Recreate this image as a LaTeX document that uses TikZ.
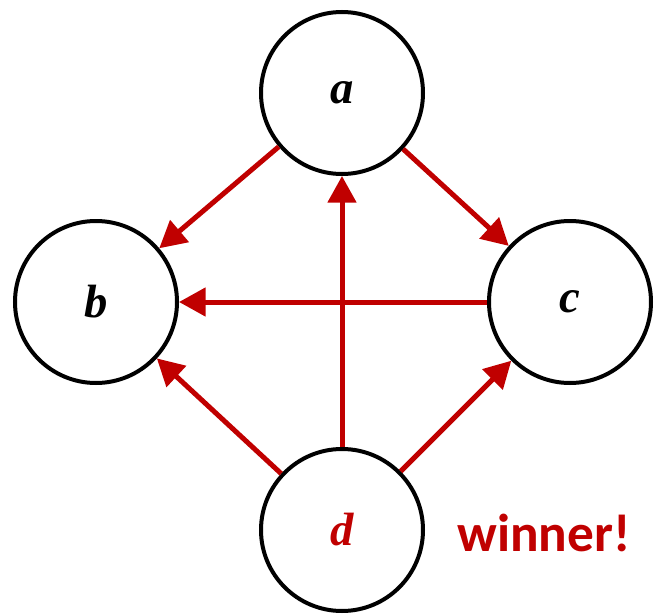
\documentclass[tikz,border=0pt]{standalone}
\usepackage{fontspec}
\newfontfamily\labelfont{Carlito}
\newfontfamily\vtxfont{Liberation Serif}
\usetikzlibrary{arrows.meta}
\definecolor{winred}{HTML}{C00000}

\begin{document}
\begin{tikzpicture}[x=0.75pt,y=-0.75pt, vtx/.style={draw=black,circle,line width=3pt,minimum size=121.5pt,inner sep=0pt,font=\vtxfont\fontsize{35}{40}\selectfont\bfseries\itshape}, arr/.style={-{Triangle[length=20pt,width=21pt]},line width=3.75pt,draw=winred}]
\useasboundingbox (0,0) rectangle (654,614);
\node[vtx] (a) at (342,93) {a};
\node[vtx] (b) at (96,302) {b};
\node[vtx] (c) at (570,302) {c};
\node[vtx,text=winred] (d) at (342,530) {d};
\node[text=winred,font=\labelfont\fontsize{40}{46}\selectfont\bfseries] (win) at (544,533) {winner!};
\draw[arr] (a)--(b); \draw[arr] (a)--(c); \draw[arr] (c)--(b);
\draw[arr] (d)--(b); \draw[arr] (d)--(c); \draw[arr] (d)--(a);
\end{tikzpicture}
\end{document}
